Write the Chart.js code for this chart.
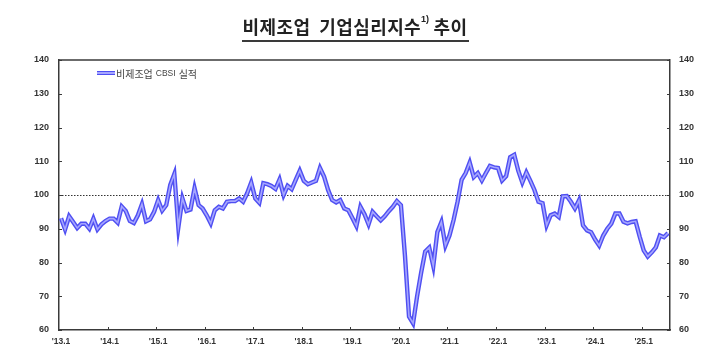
<!DOCTYPE html>
<html><head><meta charset="utf-8">
<script src="https://cdn.jsdelivr.net/npm/chart.js@4.4.1/dist/chart.umd.min.js"></script>
<style>
html,body{margin:0;padding:0;background:#fff;}
#wrap{position:relative;width:710px;height:351px;overflow:hidden;}
#chart{position:absolute;left:0;top:0;}
#title{position:absolute;left:0;top:13px;width:710px;text-align:center;font-family:"Noto Sans CJK KR","Noto Sans",sans-serif;font-weight:700;font-size:18px;color:#222;letter-spacing:0.4px;}
#title span.u{display:inline-block;border-bottom:2px solid #3a3a3a;line-height:23px;padding:0 1px 2px 1px;}
#title sup{font-size:9px;position:relative;top:-1px;vertical-align:top;line-height:10px;font-family:"Liberation Sans",sans-serif;letter-spacing:0;}
#legend{position:absolute;left:97px;top:65px;height:16px;display:flex;align-items:center;font-family:"Noto Sans CJK KR",sans-serif;color:#444;font-size:10px;white-space:nowrap;}
#legend .sw{display:inline-block;width:18px;height:1.5px;background:#a6a6ff;border-top:1.5px solid #4f4ff2;border-bottom:1.5px solid #4f4ff2;margin-right:1px;}
#legend .s{font-family:"Liberation Sans",sans-serif;font-size:8.5px;margin:0 3px;}
</style></head>
<body>
<div id="wrap">
<canvas id="chart" width="710" height="351"></canvas>
<div id="title"><span class="u">비제조업&nbsp; 기업심리지수<sup>1)</sup> 추이</span></div>
<div id="legend"><span class="sw"></span><span>비제조업</span><span class="s">CBSI</span><span>실적</span></div>
</div>
<script>
// ---- data (monthly, 2013.1 - 2025.7) ----
const seriesName = "비제조업 CBSI 실적";
const cbsi2013 = [93.1, 89.8, 93.7, 92.0, 90.2, 91.5, 91.5, 90.0, 93.0, 89.8, 91.3, 92.3];
const cbsi2014 = [93.0, 93.0, 91.8, 96.6, 95.3, 92.3, 91.7, 94.0, 97.3, 92.2, 92.8, 95.0];
const cbsi2015 = [98.5, 95.4, 97.0, 103.0, 106.2, 90.5, 99.0, 95.3, 95.7, 102.0, 97.0, 96.0];
const cbsi2016 = [94.0, 91.6, 95.5, 96.5, 96.0, 98.0, 98.2, 98.2, 99.0, 98.0, 100.5, 103.7];
const cbsi2017 = [99.0, 97.7, 103.5, 103.2, 102.7, 101.8, 104.6, 100.0, 102.7, 101.7, 104.5, 107.2];
const cbsi2018 = [104.2, 103.2, 103.7, 104.2, 108.0, 105.5, 101.5, 98.5, 97.8, 98.5, 96.0, 95.5];
const cbsi2019 = [93.2, 90.8, 96.5, 94.3, 91.3, 95.0, 93.7, 92.5, 93.7, 95.2, 96.5, 98.2];
const cbsi2020 = [97.0, 82.0, 64.0, 62.0, 70.0, 77.0, 83.2, 84.4, 79.0, 89.0, 92.0, 85.0];
const cbsi2021 = [88.0, 92.5, 98.0, 104.5, 106.5, 109.6, 105.3, 106.5, 104.3, 106.5, 108.6, 108.2];
const cbsi2022 = [108.0, 104.3, 105.6, 111.2, 111.9, 107.2, 103.7, 106.7, 104.2, 101.5, 98.0, 97.6];
const cbsi2023 = [91.0, 94.0, 94.5, 93.5, 99.6, 99.7, 98.0, 96.0, 98.4, 91.0, 89.5, 89.0];
const cbsi2024 = [86.8, 85.0, 88.0, 90.0, 91.5, 94.5, 94.5, 92.1, 91.6, 92.0, 92.2, 87.7];
const cbsi2025 = [83.6, 81.8, 83.0, 84.5, 88.0, 87.5, 88.7];
const years = [2013,2014,2015,2016,2017,2018,2019,2020,2021,2022,2023,2024,2025];
const yearTickLabels = ["'13.1","'14.1","'15.1","'16.1","'17.1","'18.1","'19.1","'20.1","'21.1","'22.1","'23.1","'24.1","'25.1"];
const yTicks = [60,70,80,90,100,110,120,130,140];
const referenceLevel = 100;

const yearly = [cbsi2013,cbsi2014,cbsi2015,cbsi2016,cbsi2017,cbsi2018,cbsi2019,cbsi2020,cbsi2021,cbsi2022,cbsi2023,cbsi2024,cbsi2025];
const categories = [];
const values = [];
yearly.forEach((arr, yi) => arr.forEach((v, mi) => { categories.push(years[yi] + "." + (mi + 1)); values.push(v); }));

const axisColor = '#3a3a3a';
const tickFont = {family: "'Liberation Sans', Arial, sans-serif", weight: 'bold', size: 9};

const decor = {
  id: 'decor',
  beforeDatasetsDraw(chart) {
    const {ctx, chartArea: a, scales: {y}} = chart;
    const py = Math.round(y.getPixelForValue(referenceLevel)) + 0.5;
    ctx.save();
    ctx.strokeStyle = '#333';
    ctx.lineWidth = 1;
    ctx.setLineDash([1.5, 1.5]);
    ctx.beginPath(); ctx.moveTo(a.left, py); ctx.lineTo(a.right, py); ctx.stroke();
    ctx.restore();
  },
  afterDraw(chart) {
    const {ctx, chartArea: a, scales: {x, y}} = chart;
    ctx.save();
    ctx.strokeStyle = axisColor;
    ctx.lineWidth = 1.5;
    ctx.beginPath(); ctx.moveTo(a.left, a.top); ctx.lineTo(a.right, a.top); ctx.stroke();
    ctx.lineWidth = 1;
    ctx.beginPath();
    yTicks.forEach(t => {
      const py = Math.round(y.getPixelForValue(t)) + 0.5;
      ctx.moveTo(a.left, py); ctx.lineTo(a.left + 3, py);
      ctx.moveTo(a.right, py); ctx.lineTo(a.right - 3, py);
    });
    const half = (x.getPixelForValue(1) - x.getPixelForValue(0)) / 2;
    categories.forEach((c, i) => {
      if (c.split('.')[1] === '1' && i > 0) {
        const px = Math.round(x.getPixelForValue(i) - half) + 0.5;
        ctx.moveTo(px, a.bottom); ctx.lineTo(px, a.bottom - 3);
      }
    });
    ctx.stroke();
    ctx.restore();
  }
};

new Chart(document.getElementById('chart'), {
  type: 'line',
  data: {
    labels: categories,
    datasets: [
      {label: seriesName, data: values, borderColor: '#4f4ff2', borderWidth: 4.4, pointRadius: 0, tension: 0, yAxisID: 'y', order: 2},
      {label: seriesName + ' ', data: values, borderColor: '#a6a6ff', borderWidth: 1.6, pointRadius: 0, tension: 0, yAxisID: 'y', order: 1}
    ]
  },
  options: {
    responsive: false,
    animation: false,
    layout: {padding: {top: 60, left: 0, right: 0, bottom: 0}},
    plugins: {legend: {display: false}, tooltip: {enabled: false}},
    scales: {
      x: {
        type: 'category', offset: true,
        grid: {display: false, drawTicks: false},
        border: {display: true, color: axisColor, width: 1.5},
        ticks: {
          autoSkip: false, maxRotation: 0, minRotation: 0, padding: 7, color: '#333', font: {family: "'Liberation Sans', Arial, sans-serif", weight: 'bold', size: 8.5},
          callback: function(v, i) {
            const parts = categories[i].split('.');
            if (parts[1] === '1') return yearTickLabels[years.indexOf(+parts[0])];
            return '';
          }
        },
        afterFit(s) { s.height = 21; }
      },
      y: {
        position: 'left', min: 60, max: 140,
        grid: {display: false, drawTicks: false},
        border: {display: true, color: axisColor, width: 1.5},
        ticks: {stepSize: 10, padding: 10, color: '#333', font: tickFont},
        afterFit(s) { s.width = 59; }
      },
      y2: {
        position: 'right', min: 60, max: 140, display: true,
        grid: {display: false, drawTicks: false},
        border: {display: true, color: axisColor, width: 1.5},
        ticks: {stepSize: 10, padding: 9, color: '#333', font: tickFont},
        afterFit(s) { s.width = 40; }
      }
    }
  },
  plugins: [decor]
});
</script>
</body></html>
